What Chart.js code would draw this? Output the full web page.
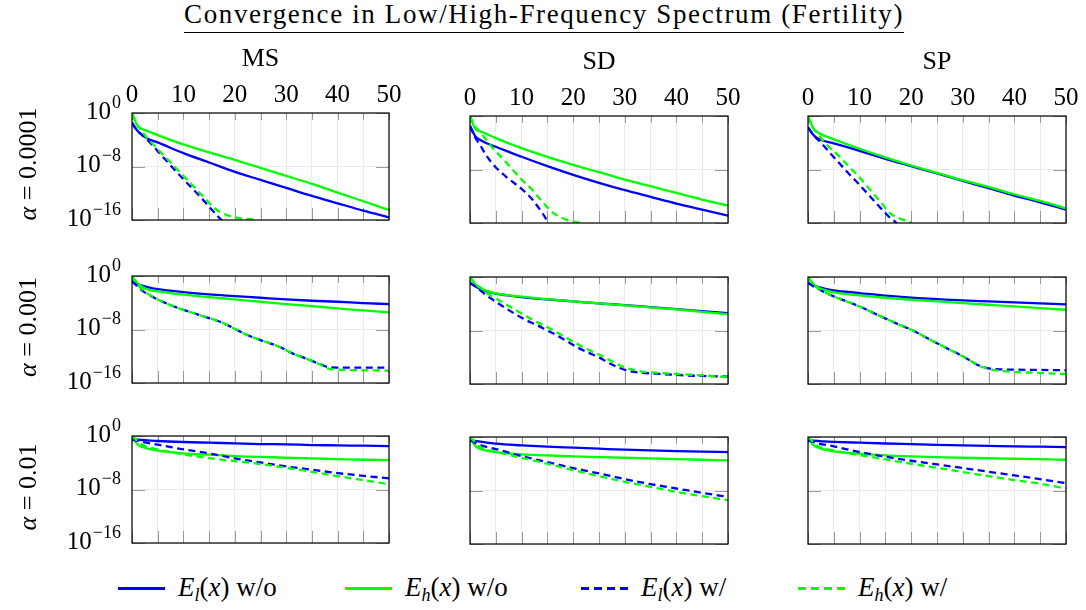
<!DOCTYPE html>
<html>
<head>
<meta charset="utf-8">
<script src="https://cdn.jsdelivr.net/npm/chart.js@4.4.1/dist/chart.umd.min.js"></script>
<style>
  body { margin: 0; background: #fff; }
  #page { position: relative; width: 1086px; height: 610px; font-family: 'Liberation Serif', Tinos, 'Times New Roman', 'DejaVu Serif', serif; color: #000; }
  .abs { position: absolute; }
  .title { left: 0; top: 0; width: 1088px; text-align: center; font-size: 27px; line-height: 28px; }
  .title span { display: inline-block; border-bottom: 1.5px solid #000; padding-bottom: 4px; white-space: nowrap; }
  .coltitle { font-size: 26px; line-height: 26px; width: 100px; text-align: center; }
  .rowlabel { font-size: 26px; line-height: 26px; width: 200px; text-align: center; transform: rotate(-90deg); white-space: nowrap; }
  .legline { height: 2.5px; width: 47px; }
  .legtext { font-size: 27px; line-height: 27px; white-space: nowrap; }
  sub { font-size: 18px; vertical-align: -5px; line-height: 0; }
</style>
</head>
<body>
<div id="page">
  <div class="abs title"><span id="title">Convergence in Low/High-Frequency Spectrum (Fertility)</span></div>
</div>
<script>
const FONT = "'Liberation Serif', Tinos, 'Times New Roman', 'DejaVu Serif', serif";

// axis ticks
const xGridStep = 5;
const xTickValues = [0, 10, 20, 30, 40, 50];
const yTickValues = [1, 1e-8, 1e-16];
const yTickExps = ['0', '\u22128', '\u221216'];

const methods = ['MS', 'SD', 'SP'];
const alphas = ['0.0001', '0.001', '0.01'];
const seriesNames = ['El w/o', 'Eh w/o', 'El w/', 'Eh w/'];

// all series are stored as log10 of the error
const itSolid = [0, 1, 2, 3, 5, 10, 15, 20, 25, 30, 35, 40, 45, 50];
const itCoarse = [0, 2, 5, 10, 15, 20, 25, 30, 35, 40, 45, 50];

// alpha = 0.0001
const ms4ElWo = [-1.5, -2.6, -3.3, -3.8, -4.4, -6.0, -7.4, -8.8, -10.0, -11.2, -12.4, -13.5, -14.6, -15.6];
const ms4EhWo = [0, -1.8, -2.4, -2.7, -3.3, -4.7, -5.9, -7.0, -8.2, -9.4, -10.6, -11.9, -13.2, -14.5];
const ms4ElWIt = [0, 1, 2, 3, 5, 7, 10, 13, 15, 17, 18, 19];
const ms4ElW = [-1.5, -2.6, -3.3, -4.0, -5.7, -7.4, -9.9, -12.3, -14.0, -15.7, -16.5, -18];
const ms4EhWIt = [0, 1, 2, 3, 4, 6, 8, 10, 12, 14, 16, 18, 20, 22, 24, 26];
const ms4EhW = [0, -1.8, -2.8, -3.8, -4.6, -6.2, -7.8, -9.4, -11.0, -12.6, -14.2, -15.1, -15.6, -15.85, -15.95, -17];

const sd4ElWo = [-1.5, -3.0, -3.6, -4.0, -4.6, -6.1, -7.5, -8.8, -10.0, -11.1, -12.1, -13.1, -14.0, -14.9];
const sd4EhWo = [0, -1.9, -2.3, -2.6, -3.3, -4.8, -6.1, -7.3, -8.4, -9.5, -10.5, -11.5, -12.5, -13.4];
const sd4ElWIt = [0, 1, 2, 3, 4, 5, 6, 7, 8, 10, 12, 14, 15, 16];
const sd4ElW = [-1.5, -3.2, -4.4, -5.7, -6.8, -7.7, -8.4, -9.1, -9.7, -10.9, -12.4, -14.5, -15.7, -17];
const sd4EhWIt = [0, 1, 2, 3, 4, 5, 6, 8, 10, 12, 14, 16, 18, 20, 21.5, 23];
const sd4EhW = [0, -1.6, -2.4, -3.4, -4.4, -5.3, -6.1, -7.8, -9.5, -11.0, -12.8, -14.4, -15.3, -15.8, -16.0, -17];

const sp4ElWo = [-1.7, -2.8, -3.4, -3.7, -4.1, -5.2, -6.4, -7.5, -8.6, -9.7, -10.8, -11.9, -12.9, -14.0];
const sp4EhWo = [0, -1.8, -2.5, -2.9, -3.5, -4.9, -6.2, -7.4, -8.5, -9.6, -10.6, -11.7, -12.7, -13.8];
const sp4ElWIt = [0, 1, 2, 3, 4, 6, 8, 10, 12, 14, 16, 17, 18];
const sp4ElW = [-1.7, -2.8, -3.6, -4.4, -5.3, -7.0, -8.7, -10.3, -12.0, -13.7, -15.3, -15.9, -17];
const sp4EhWIt = [0, 1, 2, 3, 4, 6, 8, 10, 12, 14, 16, 18, 20, 21];
const sp4EhW = [0, -1.8, -2.7, -3.8, -4.6, -6.0, -7.6, -9.2, -11.0, -12.8, -14.6, -15.4, -16.0, -17];

// alpha = 0.001
const ms3ElWo = [-0.8, -1.2, -1.45, -1.65, -1.95, -2.4, -2.75, -3.0, -3.25, -3.5, -3.7, -3.85, -4.05, -4.2];
const ms3EhWo = [0, -1.0, -1.6, -2.0, -2.3, -2.8, -3.15, -3.5, -3.85, -4.2, -4.5, -4.85, -5.15, -5.45];
const ms3WIt = [0, 1, 2, 3, 5, 7, 9, 11, 13, 15, 17, 19, 21, 23, 25, 27, 29, 31, 33, 35, 37, 38, 40, 45, 50];
const ms3ElW = [-0.8, -1.5, -2.2, -2.7, -3.5, -4.2, -4.8, -5.3, -5.8, -6.3, -6.8, -7.5, -8.3, -9.0, -9.6, -10.1, -10.7, -11.5, -12.1, -12.7, -13.3, -13.6, -13.7, -13.7, -13.7];
const ms3EhW = [0, -1.2, -2.0, -2.6, -3.5, -4.2, -4.8, -5.3, -5.8, -6.3, -6.8, -7.5, -8.3, -9.0, -9.6, -10.1, -10.7, -11.5, -12.1, -12.7, -13.4, -13.8, -14.0, -14.1, -14.15];

const sd3ElWo = [-0.9, -1.4, -1.8, -2.1, -2.5, -3.0, -3.35, -3.65, -3.95, -4.2, -4.5, -4.8, -5.1, -5.4];
const sd3EhWo = [0, -1.1, -1.6, -2.0, -2.45, -2.95, -3.3, -3.65, -3.95, -4.25, -4.55, -4.85, -5.2, -5.55];
const sd3WIt = [0, 1, 2, 3, 5, 7, 9, 11, 13, 15, 17, 19, 21, 23, 25, 27, 29, 31, 33, 36, 40, 45, 50];
const sd3ElW = [-0.9, -1.4, -2.0, -2.65, -3.7, -4.7, -5.65, -6.5, -7.2, -8.0, -8.8, -9.7, -10.6, -11.35, -12.0, -12.9, -13.6, -14.1, -14.3, -14.45, -14.65, -14.8, -14.9];
const sd3EhW = [0, -1.0, -1.6, -2.3, -3.2, -4.1, -5.0, -5.9, -6.75, -7.5, -8.35, -9.25, -10.1, -10.9, -11.6, -12.4, -13.2, -13.75, -14.1, -14.3, -14.5, -14.7, -15.0];

const sp3ElWo = [-0.9, -1.2, -1.5, -1.7, -2.0, -2.4, -2.8, -3.1, -3.3, -3.5, -3.65, -3.8, -3.95, -4.1];
const sp3EhWo = [0, -1.0, -1.6, -1.9, -2.3, -2.75, -3.1, -3.4, -3.65, -3.9, -4.15, -4.4, -4.65, -4.9];
const sp3WIt = [0, 1, 2, 3, 5, 7, 9, 11, 13, 15, 17, 19, 21, 23, 25, 27, 29, 31, 33, 35, 37, 40, 45, 50];
const sp3ElW = [-0.9, -1.4, -1.8, -2.2, -2.9, -3.5, -4.1, -4.75, -5.5, -6.2, -6.9, -7.55, -8.25, -9.1, -9.9, -10.7, -11.45, -12.3, -13.2, -13.65, -13.8, -13.85, -13.9, -13.95];
const sp3EhW = [0, -1.1, -1.7, -2.2, -2.9, -3.5, -4.1, -4.75, -5.5, -6.2, -6.9, -7.55, -8.25, -9.1, -9.9, -10.7, -11.45, -12.3, -13.2, -13.75, -14.0, -14.2, -14.35, -14.5];

// alpha = 0.01
const ms2ElWo = [-0.5, -0.55, -0.6, -0.65, -0.75, -0.9, -1.0, -1.1, -1.2, -1.25, -1.35, -1.4, -1.45, -1.5];
const ms2EhWo = [0, -1.2, -1.65, -1.9, -2.2, -2.6, -2.8, -3.0, -3.12, -3.25, -3.35, -3.45, -3.55, -3.6];
const ms2ElW = [-0.5, -0.9, -1.3, -2.0, -2.6, -3.35, -3.95, -4.55, -5.05, -5.55, -5.95, -6.35];
const ms2EhW = [0, -1.3, -2.0, -2.75, -3.3, -3.75, -4.2, -4.75, -5.35, -6.0, -6.6, -7.2];

const sd2ElWo = [-0.5, -0.6, -0.7, -0.8, -1.0, -1.25, -1.45, -1.6, -1.75, -1.9, -2.0, -2.1, -2.18, -2.25];
const sd2EhWo = [0, -1.3, -1.8, -2.0, -2.25, -2.6, -2.75, -2.9, -3.0, -3.1, -3.2, -3.3, -3.4, -3.5];
const sd2ElW = [-0.5, -1.2, -1.8, -2.85, -3.75, -4.65, -5.45, -6.3, -7.05, -7.7, -8.35, -8.95];
const sd2EhW = [0, -1.5, -2.2, -3.1, -4.0, -4.95, -5.85, -6.7, -7.45, -8.2, -8.85, -9.45];

const sp2ElWo = [-0.5, -0.55, -0.6, -0.65, -0.72, -0.85, -0.97, -1.07, -1.17, -1.25, -1.32, -1.4, -1.45, -1.5];
const sp2EhWo = [0, -1.2, -1.6, -1.85, -2.15, -2.5, -2.75, -2.9, -3.0, -3.1, -3.18, -3.25, -3.32, -3.4];
const sp2ElW = [-0.5, -0.95, -1.4, -2.25, -2.95, -3.55, -4.1, -4.65, -5.2, -5.75, -6.3, -6.9];
const sp2EhW = [0, -1.4, -2.0, -2.7, -3.35, -4.0, -4.6, -5.25, -5.85, -6.45, -7.0, -7.7];

// [xs, logs] for each series, rows = alpha, cols = method
const grid = [
  [
    [[itSolid, ms4ElWo], [itSolid, ms4EhWo], [ms4ElWIt, ms4ElW], [ms4EhWIt, ms4EhW]],
    [[itSolid, sd4ElWo], [itSolid, sd4EhWo], [sd4ElWIt, sd4ElW], [sd4EhWIt, sd4EhW]],
    [[itSolid, sp4ElWo], [itSolid, sp4EhWo], [sp4ElWIt, sp4ElW], [sp4EhWIt, sp4EhW]]
  ],
  [
    [[itSolid, ms3ElWo], [itSolid, ms3EhWo], [ms3WIt, ms3ElW], [ms3WIt, ms3EhW]],
    [[itSolid, sd3ElWo], [itSolid, sd3EhWo], [sd3WIt, sd3ElW], [sd3WIt, sd3EhW]],
    [[itSolid, sp3ElWo], [itSolid, sp3EhWo], [sp3WIt, sp3ElW], [sp3WIt, sp3EhW]]
  ],
  [
    [[itSolid, ms2ElWo], [itSolid, ms2EhWo], [itCoarse, ms2ElW], [itCoarse, ms2EhW]],
    [[itSolid, sd2ElWo], [itSolid, sd2EhWo], [itCoarse, sd2ElW], [itCoarse, sd2EhW]],
    [[itSolid, sp2ElWo], [itSolid, sp2EhWo], [itCoarse, sp2ElW], [itCoarse, sp2EhW]]
  ]
];

const colors = ['#0000ff', '#00ff00', '#0000ff', '#00ff00'];
const dashes = [[], [], [7, 4.5], [7, 4.5]];

// layout
const colLeft = [132, 470, 808];
const colWidth = [257, 258, 258];
const rowTop = [[113, 116, 116], [276, 277, 277], [436, 437, 437]];
const plotH = 107;
const PAD = { left: 110, top: 45, right: 25, bottom: 20 };

const page = document.getElementById('page');

const framePlugin = {
  id: 'frame',
  beforeDatasetsDraw(chart) {
    const { ctx, chartArea: a, scales } = chart;
    ctx.save();
    ctx.strokeStyle = '#9a9a9a';
    ctx.lineWidth = 1;
    ctx.beginPath();
    for (let v = 0; v <= 50; v += xGridStep) {
      const x = Math.round(scales.x.getPixelForValue(v)) + 0.5;
      ctx.moveTo(x, a.top); ctx.lineTo(x, a.top + 7);
      ctx.moveTo(x, a.bottom); ctx.lineTo(x, a.bottom - 12);
    }
    yTickValues.forEach(v => {
      const y = Math.round(scales.y.getPixelForValue(v)) + 0.5;
      ctx.moveTo(a.left, y); ctx.lineTo(a.left + 13, y);
      ctx.moveTo(a.right, y); ctx.lineTo(a.right - 13, y);
    });
    ctx.stroke();
    ctx.restore();
  },
  afterDatasetsDraw(chart, args, opts) {
    const { ctx, chartArea: a, scales } = chart;
    ctx.save();
    ctx.strokeStyle = '#000';
    ctx.lineWidth = 1.2;
    ctx.strokeRect(a.left, a.top, a.right - a.left, a.bottom - a.top);
    ctx.fillStyle = '#000';
    if (opts.xLabels) {
      ctx.font = `25px ${FONT}`;
      ctx.textAlign = 'center';
      ctx.textBaseline = 'middle';
      xTickValues.forEach(v => {
        ctx.fillText(String(v), scales.x.getPixelForValue(v), a.top - 18);
      });
    }
    if (opts.yLabels) {
      ctx.textBaseline = 'middle';
      ctx.textAlign = 'left';
      yTickValues.forEach((v, i) => {
        const y = scales.y.getPixelForValue(v);
        ctx.font = `18px ${FONT}`;
        const ew = ctx.measureText(yTickExps[i]).width;
        ctx.font = `25px ${FONT}`;
        const bw = ctx.measureText('10').width;
        const right = a.left - 11;
        ctx.fillText('10', right - ew - bw - 1, y - 1);
        ctx.font = `18px ${FONT}`;
        ctx.fillText(yTickExps[i], right - ew, y - 10);
      });
    }
    ctx.restore();
  }
};

function toPoints(xs, logs) {
  return xs.map((x, i) => ({ x: x, y: Math.pow(10, logs[i]) }));
}

grid.forEach((row, r) => {
  row.forEach((panel, c) => {
    const left = colLeft[c], top = rowTop[r][c], w = colWidth[c];
    const canvas = document.createElement('canvas');
    canvas.width = w + PAD.left + PAD.right;
    canvas.height = plotH + PAD.top + PAD.bottom;
    canvas.className = 'abs';
    canvas.style.left = (left - PAD.left) + 'px';
    canvas.style.top = (top - PAD.top) + 'px';
    page.appendChild(canvas);

    const datasets = panel.map(([xs, logs], k) => ({
      label: seriesNames[k],
      data: toPoints(xs, logs),
      borderColor: colors[k],
      borderWidth: 2.3,
      borderDash: dashes[k],
      pointRadius: 0,
      cubicInterpolationMode: 'monotone',
      fill: false,
      order: 4 - k
    }));

    new Chart(canvas, {
      type: 'line',
      data: { datasets },
      options: {
        responsive: false,
        animation: false,
        devicePixelRatio: 1,
        layout: { padding: PAD },
        plugins: {
          legend: { display: false },
          tooltip: { enabled: false },
          frame: { xLabels: r === 0, yLabels: c === 0 }
        },
        scales: {
          x: {
            type: 'linear', min: 0, max: 50,
            ticks: { display: false, stepSize: xGridStep },
            grid: { color: '#ebebeb', lineWidth: 1, drawTicks: false },
            border: { display: false }
          },
          y: {
            type: 'logarithmic', min: 1e-16, max: 1,
            afterBuildTicks: s => { s.ticks = yTickValues.map(v => ({ value: v })); },
            ticks: { display: false },
            grid: { color: '#ebebeb', lineWidth: 1, drawTicks: false },
            border: { display: false }
          }
        }
      },
      plugins: [framePlugin]
    });
  });
});

// stretch the title to the width it has in the figure
const titleEl = document.getElementById('title');
const titleText = titleEl.textContent;
titleEl.style.letterSpacing = ((720 - titleEl.getBoundingClientRect().width) / titleText.length) + 'px';

// column titles
methods.forEach((m, c) => {
  const d = document.createElement('div');
  d.className = 'abs coltitle';
  d.textContent = m;
  d.style.left = (colLeft[c] + colWidth[c] / 2 - 50) + 'px';
  d.style.top = (rowTop[0][c] - 68) + 'px';
  page.appendChild(d);
});

// row labels
alphas.forEach((a, r) => {
  const d = document.createElement('div');
  d.className = 'abs rowlabel';
  d.innerHTML = '<i>\u03b1</i> = ' + a;
  d.style.left = (28 - 100) + 'px';
  d.style.top = (rowTop[r][0] + plotH / 2 - 3 - 13) + 'px';
  page.appendChild(d);
});

// legend
const legendItems = [
  { x: 118, text: '<i>E</i><sub><i>l</i></sub>(<i>x</i>) w/o', color: colors[0], dashed: false },
  { x: 345, text: '<i>E</i><sub><i>h</i></sub>(<i>x</i>) w/o', color: colors[1], dashed: false },
  { x: 581, text: '<i>E</i><sub><i>l</i></sub>(<i>x</i>) w/', color: colors[2], dashed: true },
  { x: 798, text: '<i>E</i><sub><i>h</i></sub>(<i>x</i>) w/', color: colors[3], dashed: true }
];
legendItems.forEach(item => {
  const line = document.createElement('div');
  line.className = 'abs legline';
  line.style.left = item.x + 'px';
  line.style.top = '587px';
  line.style.background = item.dashed
    ? `repeating-linear-gradient(to right, ${item.color} 0 8px, transparent 8px 13px)`
    : item.color;
  page.appendChild(line);
  const t = document.createElement('div');
  t.className = 'abs legtext';
  t.innerHTML = item.text;
  t.style.left = (item.x + 60) + 'px';
  t.style.top = '574px';
  page.appendChild(t);
});
</script>
</body>
</html>
